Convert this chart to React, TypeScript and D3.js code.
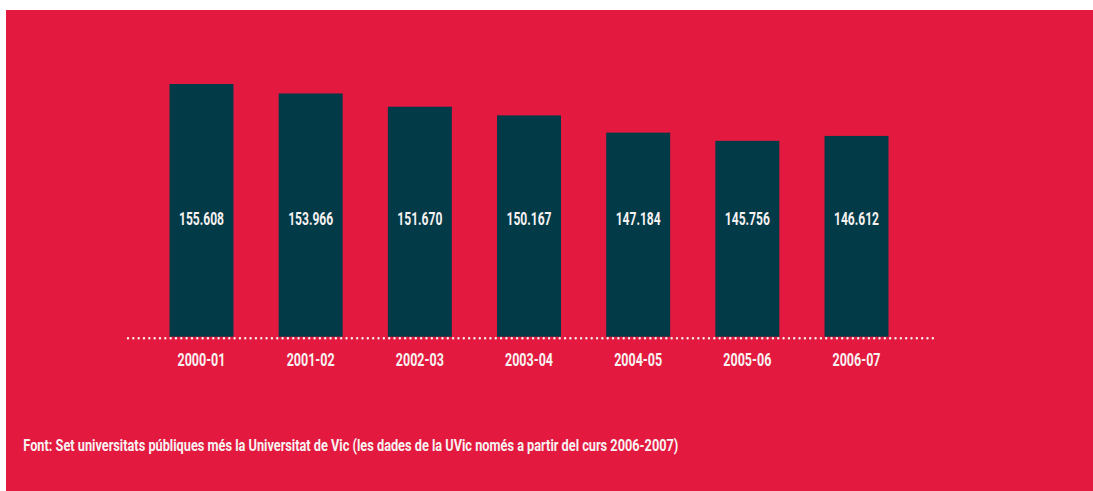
import React from "react";
import * as d3 from "d3";

const categories = ["2000-01", "2001-02", "2002-03", "2003-04", "2004-05", "2005-06", "2006-07"];
const values = [155.608, 153.966, 151.67, 150.167, 147.184, 145.756, 146.612];
const valueLabels = ["155.608", "153.966", "151.670", "150.167", "147.184", "145.756", "146.612"];
const footnote =
  "Font: Set universitats públiques més la Universitat de Vic (les dades de la UVic només a partir del curs 2006-2007)";

const W = 1093;
const H = 491;
const RED = "#e4193f";
const BAR = "#023a48";
const TEXT = "#f7f2f2";
const FONT = "Roboto, 'DejaVu Sans', sans-serif";

export default function App() {
  const x = d3
    .scaleBand<string>()
    .domain(categories)
    .range([169.5, 888.5])
    .paddingInner(0.414)
    .paddingOuter(0);
  const y = d3.scaleLinear().domain([111.6, 155.608]).range([338, 84]);
  const baseY = y(111.6);

  return (
    <div style={{ position: "absolute", left: 0, top: 0 }}>
      <svg width={W} height={H} style={{ display: "block" }}>
        <rect x={6} y={10} width={W - 6} height={H - 10} fill={RED} />
        {categories.map((c, i) => (
          <rect
            key={c}
            x={x(c)}
            y={y(values[i])}
            width={x.bandwidth()}
            height={baseY - 1.3 - y(values[i])}
            fill={BAR}
          />
        ))}
        <line
          x1={128}
          x2={938}
          y1={338.3}
          y2={338.3}
          stroke={TEXT}
          strokeWidth={2.4}
          strokeLinecap="round"
          strokeDasharray="0 5.33"
        />
        {categories.map((c, i) => (
          <text
            key={"v" + c}
            x={(x(c) as number) + x.bandwidth() / 2}
            y={225}
            textAnchor="middle"
            fill={TEXT}
            fontFamily={FONT}
            fontWeight={700}
            fontSize={17.6}
            textLength={45}
            lengthAdjust="spacingAndGlyphs"
          >
            {valueLabels[i]}
          </text>
        ))}
        {categories.map((c) => (
          <text
            key={"t" + c}
            x={(x(c) as number) + x.bandwidth() / 2}
            y={366}
            textAnchor="middle"
            fill={TEXT}
            fontFamily={FONT}
            fontWeight={700}
            fontSize={18.6}
            textLength={48}
            lengthAdjust="spacingAndGlyphs"
          >
            {c}
          </text>
        ))}
        <text
          x={23.3}
          y={450.5}
          fill={TEXT}
          fontFamily={FONT}
          fontWeight={700}
          fontSize={16.5}
          textLength={655}
          lengthAdjust="spacingAndGlyphs"
        >
          {footnote}
        </text>
      </svg>
    </div>
  );
}
